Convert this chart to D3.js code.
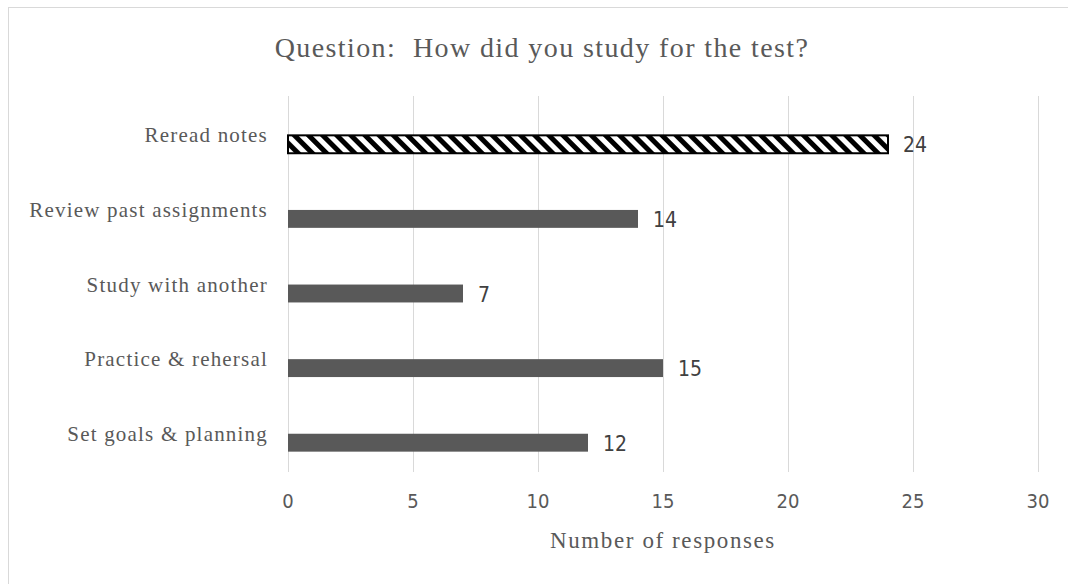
<!DOCTYPE html>
<html><head><meta charset="utf-8">
<script src="https://cdn.jsdelivr.net/npm/d3@7"></script>
<style>body{margin:0;background:#fff}svg{display:block}</style>
</head><body><svg id="c" width="1068" height="584"></svg>
<script>
const categories = ["Reread notes","Review past assignments","Study with another","Practice & rehersal","Set goals & planning"];
const values = [24,14,7,15,12];
const hatched = [true,false,false,false,false];
const xTicks = [0,5,10,15,20,25,30];
const titleText = "Question:  How did you study for the test?";
const xTitle = "Number of responses";

const svg = d3.select("#c");
const W=1068,H=584;
svg.append("rect").attr("x",8.5).attr("y",7.5).attr("width",W-8).attr("height",H).attr("fill","#fff").attr("stroke","#d9d9d9");

const defs = svg.append("defs");
const pat = defs.append("pattern").attr("id","hatch").attr("patternUnits","userSpaceOnUse")
  .attr("width",10).attr("height",10).attr("patternTransform","rotate(-45)");
pat.append("rect").attr("width",10).attr("height",10).attr("fill","#fff");
pat.append("rect").attr("x",0).attr("width",5).attr("height",10).attr("fill","#000");

const x = d3.scaleLinear().domain([0,30]).range([288,1038]);
const y = d3.scaleBand().domain(categories).range([107,480]).paddingInner(0.76).paddingOuter(0.38);
const sansF = "'Liberation Sans Narrow','DejaVu Sans Condensed',sans-serif";
const serifF = "'Liberation Serif',serif";

// gridlines
svg.append("g").selectAll("line").data(xTicks).join("line")
  .attr("x1",d=>x(d)+0.5).attr("x2",d=>x(d)+0.5).attr("y1",96).attr("y2",472)
  .attr("stroke","#d9d9d9").attr("stroke-width",1);

// tick labels
svg.append("g").selectAll("text").data(xTicks).join("text")
  .attr("x",d=>x(d)).attr("y",508).attr("text-anchor","middle")
  .attr("font-family",sansF).attr("font-size",20)
  .attr("fill","#595959").text(d=>d);

// bars
svg.append("g").selectAll("rect").data(categories).join("rect")
  .attr("x",x(0)).attr("y",d=>y(d)).attr("height",y.bandwidth())
  .attr("width",(d,i)=>x(values[i])-x(0))
  .attr("fill",(d,i)=>hatched[i]?"url(#hatch)":"#595959")
  .attr("stroke",(d,i)=>hatched[i]?"#000":"none").attr("stroke-width",2);

// value labels
svg.append("g").selectAll("text").data(categories).join("text")
  .attr("x",(d,i)=>x(values[i])+15).attr("y",d=>y(d)+y.bandwidth()/2+8)
  .attr("font-family",sansF).attr("font-size",21)
  .attr("fill","#404040").text((d,i)=>values[i]);

// category labels
svg.append("g").selectAll("text").data(categories).join("text")
  .attr("x",268).attr("y",d=>y(d)+y.bandwidth()/2-2)
  .attr("text-anchor","end")
  .attr("font-family",serifF).attr("font-size",21).attr("letter-spacing",1.2)
  .attr("fill","#595959").text(d=>d);

svg.append("text").attr("x",542).attr("y",57).attr("text-anchor","middle")
  .attr("font-family",serifF).attr("font-size",28).attr("letter-spacing",1.4)
  .attr("fill","#595959").style("white-space","pre").text(titleText);

svg.append("text").attr("x",663).attr("y",548).attr("text-anchor","middle")
  .attr("font-family",serifF).attr("font-size",23).attr("letter-spacing",1.6)
  .attr("fill","#595959").text(xTitle);
</script></body></html>
